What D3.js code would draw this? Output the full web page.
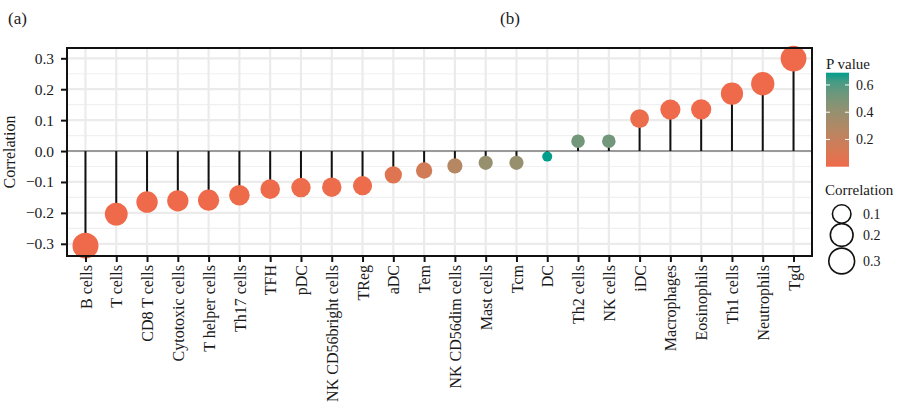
<!DOCTYPE html>
<html><head><meta charset="utf-8">
<script src="https://cdn.jsdelivr.net/npm/d3@7"></script>
<style>body{margin:0;background:#fff}svg{display:block}text{font-family:"Liberation Serif",serif;fill:#1a1a1a}</style>
</head><body><svg id="c" width="900" height="410"></svg>
<script>
const categories = ["B cells","T cells","CD8 T cells","Cytotoxic cells","T helper cells","Th17 cells","TFH","pDC","NK CD56bright cells","TReg","aDC","Tem","NK CD56dim cells","Mast cells","Tcm","DC","Th2 cells","NK cells","iDC","Macrophages","Eosinophils","Th1 cells","Neutrophils","Tgd"];
const correlation = [-0.306,-0.204,-0.165,-0.161,-0.159,-0.143,-0.123,-0.118,-0.117,-0.112,-0.077,-0.063,-0.048,-0.038,-0.038,-0.018,0.032,0.032,0.105,0.134,0.135,0.186,0.218,0.299];
const pvalue = [0.0,0.0,0.002,0.002,0.002,0.004,0.01,0.012,0.012,0.015,0.08,0.14,0.27,0.40,0.40,0.69,0.52,0.52,0.02,0.003,0.003,0.0,0.0,0.0];
const yTicks = [-0.3,-0.2,-0.1,0.0,0.1,0.2,0.3];
const pTicks = [0.2,0.4,0.6];
const sizeTicks = [0.1,0.2,0.3];

const svg = d3.select("#c");
const P = {l:67, r:812, t:48, b:256};
const x = d3.scalePoint().domain(categories).range([P.l,P.r]).padding(0.6);
const y = d3.scaleLinear().domain([-0.3,0.3]).range([243.8,58.3]);
const absC = correlation.map(Math.abs);
const sNorm = d3.scaleLinear().domain(d3.extent(absC)).range([0,1]);
const rS = d3.scaleSqrt().domain([0,1]).range([5,13]);
const r = v => rS(Math.max(0,sNorm(v)));
const pMax = 0.69;
const col = d3.scaleLinear().domain([0,pMax]).range(["#EF6A4A","#009E8B"]).interpolate(d3.interpolateLab);

const g = svg.append("g");
const minor = d3.range(-0.35,0.36,0.1).map(v=>+v.toFixed(2)).filter(v=>y(v)>P.t && y(v)<P.b);
g.selectAll(".mn").data(minor).join("line").attr("x1",P.l).attr("x2",P.r).attr("y1",d=>y(d)).attr("y2",d=>y(d)).attr("stroke","#f0f0f0").attr("stroke-width",1.2);
g.selectAll(".mj").data(yTicks).join("line").attr("x1",P.l).attr("x2",P.r).attr("y1",d=>y(d)).attr("y2",d=>y(d)).attr("stroke","#ebebeb").attr("stroke-width",2.2);
g.selectAll(".vx").data(categories).join("line").attr("x1",d=>x(d)).attr("x2",d=>x(d)).attr("y1",P.t).attr("y2",P.b).attr("stroke","#ebebeb").attr("stroke-width",2.2);
g.append("line").attr("x1",P.l).attr("x2",P.r).attr("y1",y(0)).attr("y2",y(0)).attr("stroke","#7f7f7f").attr("stroke-width",1.4);

g.selectAll(".st").data(categories).join("line")
 .attr("x1",d=>x(d)).attr("x2",d=>x(d)).attr("y1",y(0)).attr("y2",(d,i)=>y(correlation[i]))
 .attr("stroke","#111").attr("stroke-width",2);
g.selectAll(".pt").data(categories).join("circle")
 .attr("cx",d=>x(d)).attr("cy",(d,i)=>y(correlation[i])).attr("r",(d,i)=>r(absC[i]))
 .attr("fill",(d,i)=>col(pvalue[i]));

svg.append("rect").attr("x",P.l).attr("y",P.t).attr("width",P.r-P.l).attr("height",P.b-P.t).attr("fill","none").attr("stroke","#111").attr("stroke-width",2);

const ya = svg.append("g").attr("transform",`translate(${P.l},0)`).call(d3.axisLeft(y).tickValues(yTicks).tickFormat(d3.format(".1f")).tickSize(6).tickPadding(7));
ya.select(".domain").remove();
ya.selectAll(".tick line").attr("stroke","#111").attr("stroke-width",2);
ya.selectAll("text").attr("font-size",15.5).attr("fill","#1a1a1a").attr("font-family","Liberation Serif");
const xa = svg.append("g").attr("transform",`translate(0,${P.b})`).call(d3.axisBottom(x).tickSize(6).tickPadding(4));
xa.select(".domain").remove();
xa.selectAll(".tick line").attr("stroke","#111").attr("stroke-width",2);
xa.selectAll("text").attr("font-size",16).attr("fill","#1a1a1a").attr("font-family","Liberation Serif")
 .attr("transform","rotate(-90)").attr("text-anchor","end").attr("dy","0.35em").attr("x",-9).attr("y",0);

svg.append("text").attr("transform","translate(15,152) rotate(-90)").attr("text-anchor","middle").attr("font-size",16).text("Correlation");
svg.append("text").attr("x",8).attr("y",24).attr("font-size",17).text("(a)");
svg.append("text").attr("x",500).attr("y",24).attr("font-size",17).text("(b)");

const L = {x:826, w:23, top:72.7, bot:166.7};
const py = d3.scaleLinear().domain([0,pMax]).range([L.bot,L.top]);
const defs = svg.append("defs");
const grad = defs.append("linearGradient").attr("id","pg").attr("x1",0).attr("x2",0).attr("y1",1).attr("y2",0);
d3.range(0,1.001,0.1).forEach(t=>grad.append("stop").attr("offset",t).attr("stop-color",col(t*pMax)));
svg.append("rect").attr("x",L.x).attr("y",L.top).attr("width",L.w).attr("height",L.bot-L.top).attr("fill","url(#pg)");
svg.append("text").attr("x",L.x).attr("y",69).attr("font-size",15).text("P value");
const pl = svg.append("g");
pTicks.forEach(v=>{
  pl.append("line").attr("x1",L.x).attr("x2",L.x+4).attr("y1",py(v)).attr("y2",py(v)).attr("stroke","#fff").attr("stroke-width",1);
  pl.append("line").attr("x1",L.x+L.w-4).attr("x2",L.x+L.w).attr("y1",py(v)).attr("y2",py(v)).attr("stroke","#fff").attr("stroke-width",1);
  pl.append("text").attr("x",856).attr("y",py(v)).attr("dy","0.35em").attr("font-size",14).text(d3.format(".1f")(v));
});

svg.append("text").attr("x",825).attr("y",195).attr("font-size",15).text("Correlation");
const sy = [214,235,261];
sizeTicks.forEach((v,i)=>{
  svg.append("circle").attr("cx",841.7).attr("cy",sy[i]).attr("r",r(v)).attr("fill","none").attr("stroke","#111").attr("stroke-width",1.6);
  svg.append("text").attr("x",863).attr("y",sy[i]).attr("dy","0.35em").attr("font-size",14).text(d3.format(".1f")(v));
});
</script></body></html>
